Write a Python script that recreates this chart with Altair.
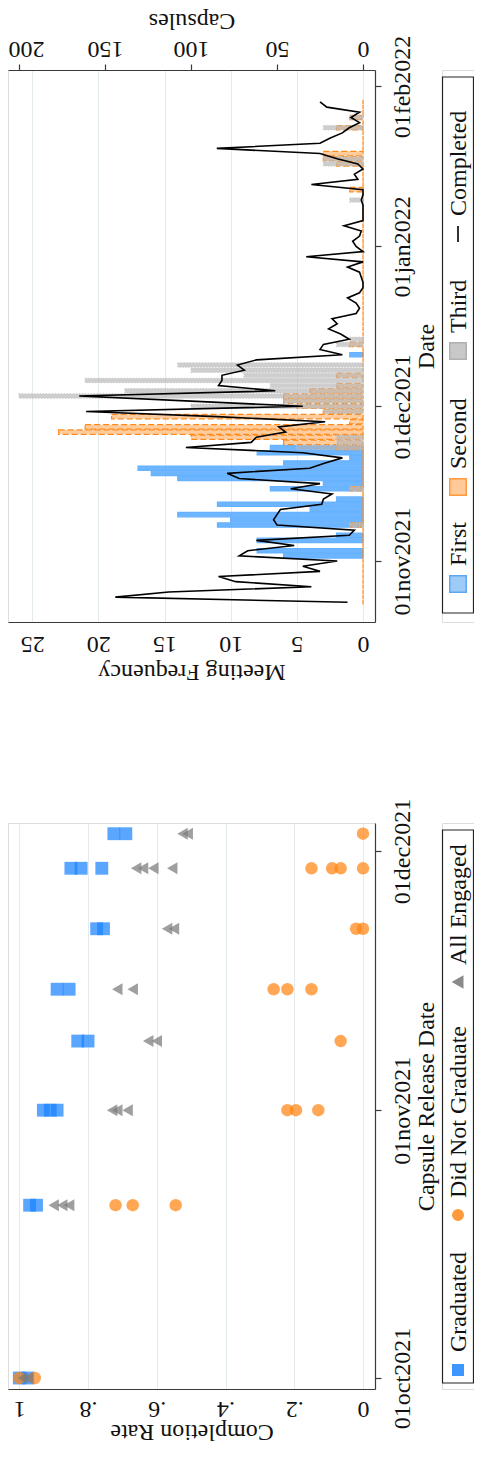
import altair as alt
import pandas as pd

FONT = "Liberation Serif"
FS = 24
INK = "#111111"
GRID = "#e3ebee"
AXC = "#3a3a3a"

# ---------------- top panel: daily meetings (24 Oct 2021 - 29 Jan 2022) ----------------
first_day = "2021-10-24"
first = [0, 0, 0, 0, 0, 0, 0, 0, 0,
         6, 8, 0, 8, 2, 0, 11, 10, 14, 4,
         11, 2, 0, 7, 3, 14, 16, 17, 6, 1,
         8, 7, 0, 0, 0, 0, 0, 0, 0, 0,
         0, 0, 0, 0, 0, 0, 0, 0, 0, 1,
         0, 0, 0, 0, 0, 0, 0, 0, 0, 0,
         0, 0, 0, 0, 0, 0, 0, 0, 0, 0,
         0, 0, 0, 0, 0, 0, 0, 0, 0, 0,
         0, 0, 0, 0, 0, 0, 0, 0, 0, 0,
         0, 0, 0, 0, 0, 0, 0, 0, 0]
second = [0, 0, 0, 0, 0, 0, 0, 0, 0,
          0, 0, 0, 0, 0, 0, 1, 0, 0, 0,
          0, 0, 0, 1, 0, 0, 0, 0, 0, 0,
          0, 2, 6, 13, 23, 21, 1, 19, 3, 5,
          6, 6, 4, 2, 0, 2, 0, 0, 0, 0,
          0, 1, 0, 0, 0, 0, 0, 0, 0, 0,
          0, 0, 0, 0, 0, 0, 0, 0, 0, 0,
          0, 0, 0, 0, 0, 0, 0, 0, 0, 0,
          0, 1, 0, 0, 0, 0, 2, 3, 3, 0,
          0, 0, 0, 2, 0, 1, 0, 0, 0]
third = [0, 0, 0, 0, 0, 0, 0, 0, 0,
         0, 0, 0, 0, 0, 0, 1, 0, 0, 0,
         0, 0, 0, 1, 0, 0, 0, 0, 0, 0,
         0, 5, 2, 2, 0, 0, 0, 0, 3, 13,
         6, 26, 18, 7, 21, 9, 13, 14, 0, 0,
         0, 2, 1, 0, 0, 0, 0, 0, 0, 0,
         0, 0, 0, 0, 0, 0, 0, 0, 0, 0,
         0, 0, 0, 0, 0, 0, 0, 0, 0, 1,
         0, 0, 0, 0, 0, 0, 3, 3, 0, 0,
         0, 0, 0, 3, 0, 1, 0, 0, 0]
completed = [9, 144, 113, 30, 74, 84, 25, 35, 15,
             72, 67, 40, 62, 8, 5, 50, 52, 50, 48,
             24, 23, 18, 42, 25, 72, 79, 31, 22, 12,
             35, 103, 65, 62, 45, 49, 22, 85, 161, 35,
             100, 165, 51, 84, 82, 82, 69, 73, 62, 12,
             25, 23, 8, 13, 20, 15, 18, 4, 2, 4,
             9, 2, 0, 0, 1, 2, 9, 0, 33, 0,
             4, 6, 2, 1, 11, 0, 0, 0, 0, 1,
             0, 0, 30, 3, 5, 0, 3, 15, 25, 85,
             25, 19, 12, 8, 2, 7, 2, 21, 25]
meeting_series = ["First", "Second", "Third"]

# ---------------- bottom panel: completion rate by capsule release ----------------
grad_dates = ["2021-10-01", "2021-10-01", "2021-10-21", "2021-10-21", "2021-11-01", "2021-11-01",
              "2021-11-01", "2021-11-09", "2021-11-09", "2021-11-15", "2021-11-15", "2021-11-22",
              "2021-11-22", "2021-11-29", "2021-11-29", "2021-11-29", "2021-12-03", "2021-12-03"]
grad_rates = [1.0, 0.975, 0.97, 0.95, 0.93, 0.91, 0.89, 0.83, 0.80, 0.89, 0.855, 0.775,
              0.755, 0.85, 0.82, 0.76, 0.725, 0.69]
notgrad_dates = ["2021-10-01", "2021-10-01", "2021-10-21", "2021-10-21", "2021-10-21", "2021-11-01",
                 "2021-11-01", "2021-11-01", "2021-11-09", "2021-11-15", "2021-11-15", "2021-11-15",
                 "2021-11-22", "2021-11-22", "2021-11-29", "2021-11-29", "2021-11-29", "2021-11-29",
                 "2021-12-03"]
notgrad_rates = [1.0, 0.955, 0.72, 0.67, 0.545, 0.22, 0.195, 0.13, 0.065, 0.26, 0.22, 0.15,
                 0.02, 0.0, 0.15, 0.09, 0.065, 0.0, 0.0]
engaged_dates = ["2021-10-01", "2021-10-01", "2021-10-21", "2021-10-21", "2021-10-21", "2021-11-01",
                 "2021-11-01", "2021-11-01", "2021-11-09", "2021-11-09", "2021-11-15", "2021-11-15",
                 "2021-11-22", "2021-11-22", "2021-11-29", "2021-11-29", "2021-11-29", "2021-11-29",
                 "2021-12-03", "2021-12-03"]
engaged_rates = [0.99, 0.975, 0.90, 0.875, 0.855, 0.73, 0.715, 0.685, 0.625, 0.60, 0.715, 0.67,
                 0.57, 0.55, 0.66, 0.64, 0.61, 0.555, 0.525, 0.51]
rate_groups = ["Graduated", "Did Not Graduate", "All Engaged"]

# ---------------- build tables ----------------
dates = pd.date_range(first_day, periods=len(first), freq="D")
top_wide = pd.DataFrame({"date": dates, "First": first, "Second": second,
                         "Third": third, "Completed": completed})
top_long = top_wide.melt(id_vars=["date"], value_vars=meeting_series,
                         var_name="series", value_name="freq")

rows = []
for grp, ds, vs in zip(rate_groups, [grad_dates, notgrad_dates, engaged_dates],
                       [grad_rates, notgrad_rates, engaged_rates]):
    for d, v in zip(ds, vs):
        rows.append({"date": d + "T00:00:00", "rate": v, "group": grp})
scatter_df = pd.DataFrame(rows)

# ---------------- shared styling ----------------
DATE_EXPR = "lower(timeFormat(datum.value, '%d%b%Y'))"


def ax(**kw):
    base = dict(labelFont=FONT, labelFontSize=FS, labelColor=INK, titleFont=FONT,
                titleFontSize=FS, titleFontWeight="normal", titleColor=INK,
                domainColor=AXC, domainWidth=1.2, tickColor=AXC, tickWidth=1.2,
                labelOverlap=False)
    base.update(kw)
    return alt.Axis(**base)


def dt(y, m, d, h=0, mi=0):
    return alt.DateTime(year=y, month=m, date=d, hours=h, minutes=mi)


W = 367
H_TOP = 552
H_BOT = 566

# ---------------- top main chart ----------------
y_top = alt.Y("date:T",
              scale=alt.Scale(domain=[dt(2021, 10, 21, 3, 35), dt(2022, 2, 3, 5, 30)], nice=False),
              axis=ax(orient="right", values=[dt(2021, 11, 1), dt(2021, 12, 1), dt(2022, 1, 1), dt(2022, 2, 1)],
                      labelExpr=DATE_EXPR, labelAngle=270, labelAlign="center", labelBaseline="top",
                      tickSize=6, labelPadding=9, grid=False, title="Date", titleAngle=270,
                      titleBaseline="top", titleAlign="center", titlePadding=0))

x_freq = alt.X("freq:Q",
               scale=alt.Scale(domain=[-0.907, 26.83], reverse=True, nice=False, zero=False),
               axis=ax(orient="bottom", values=[0, 5, 10, 15, 20, 25], format="d", labelAngle=180,
                       labelAlign="center", labelBaseline="bottom", ticks=False, tickSize=0,
                       labelPadding=9, grid=True, gridColor=GRID, gridWidth=1,
                       title="Meeting Frequency", titleAngle=180, titleBaseline="bottom",
                       titlePadding=4))

bar_styles = {
    "First": dict(fill="#3d9cff", fillOpacity=0.75, stroke="#66b2ff", strokeWidth=1.2),
    "Second": dict(fill="#ffab5c", fillOpacity=0.6, stroke="#ff8a1c", strokeWidth=1.2,
                   strokeDash=[6, 3]),
    "Third": dict(fill="#b4b4b4", fillOpacity=0.65, stroke="#c8c8c8", strokeWidth=1.2,
                  strokeDash=[1, 2]),
}

bar_layers = []
for s in meeting_series:
    src = alt.Chart(top_long).transform_filter(alt.datum.series == s)
    if s != "Second":
        src = src.transform_filter(alt.datum.freq > 0)
    bar_layers.append(src.mark_bar(orient="horizontal", size=4.4, **bar_styles[s])
                      .encode(x=x_freq, y=y_top))
bars = alt.layer(*bar_layers)

line = alt.Chart(top_wide).mark_line(color="#000000", strokeWidth=1.6).encode(
    x=alt.X("Completed:Q",
            scale=alt.Scale(domain=[-6.98, 206.4], reverse=True, nice=False, zero=False),
            axis=ax(orient="top", values=[0, 50, 100, 150, 200], format="d", labelAngle=180,
                    labelAlign="center", labelBaseline="top", ticks=True, tickSize=6,
                    labelPadding=4, grid=False, title="Capsules", titleAngle=180,
                    titleBaseline="top", titlePadding=4,
                    labelOffset={"condition": {"test": "datum.value == 200", "value": 7},
                                 "value": 0})),
    y=y_top,
    order=alt.Order("date:T"),
)

top_main = alt.layer(bars, line).resolve_scale(x="independent").properties(width=W, height=H_TOP)

# ---------------- bottom main chart ----------------
scatter = alt.Chart(scatter_df).mark_point(filled=True, opacity=0.72).encode(
    x=alt.X("rate:Q",
            scale=alt.Scale(domain=[-0.0349, 1.0329], reverse=True, nice=False, zero=False),
            axis=ax(orient="bottom", values=[0, 0.2, 0.4, 0.6, 0.8, 1],
                    labelExpr="datum.value == 0 ? '0' : datum.value == 1 ? '1' : replace(format(datum.value, '.1f'), '0.', '.')",
                    labelAngle=180, labelAlign="center", labelBaseline="bottom", ticks=False,
                    tickSize=0, labelPadding=7, grid=True, gridColor=GRID, gridWidth=1,
                    title="Completion Rate", titleAngle=180, titleBaseline="bottom",
                    titlePadding=-1)),
    y=alt.Y("date:T",
            scale=alt.Scale(domain=[dt(2021, 9, 29, 17, 27), dt(2021, 12, 4, 5, 47)], nice=False),
            axis=ax(orient="right", values=[dt(2021, 10, 1), dt(2021, 11, 1), dt(2021, 12, 1)],
                    labelExpr=DATE_EXPR, labelAngle=270, labelAlign="center", labelBaseline="top",
                    tickSize=6, labelPadding=9, grid=False, title="Capsule Release Date",
                    titleAngle=270, titleBaseline="top", titleAlign="center", titlePadding=0)),
    color=alt.Color("group:N", legend=None,
                    scale=alt.Scale(domain=rate_groups, range=["#1a84ff", "#ff8514", "#7a7a7a"])),
    shape=alt.Shape("group:N", legend=None,
                    scale=alt.Scale(domain=rate_groups, range=["square", "circle", "triangle-left"])),
    size=alt.Size("group:N", legend=None,
                  scale=alt.Scale(domain=rate_groups, range=[165, 145, 175])),
)
bot_main = scatter.properties(width=W, height=H_BOT)

# ---------------- manual legends (rotated like the rest of the figure) ----------------
LW = 32
LX = 16  # centre line of the legend entries inside the box


def legend_chart(labels, sym_y, text_y, symbols, box, height, line_item=None):
    sym_df = pd.DataFrame({"label": labels, "sy": sym_y, "ty": text_y,
                           "shape": [s[0] for s in symbols], "fill": [s[1] for s in symbols],
                           "stroke": [s[2] for s in symbols], "size": [s[3] for s in symbols]})
    sym_df = sym_df[sym_df["shape"] != "none"]
    txt_df = pd.DataFrame({"label": labels, "ty": text_y})
    box_df = pd.DataFrame({"x": [box[0]], "x2": [box[1]], "y": [box[2]], "y2": [box[3]]})
    layers = [
        alt.Chart(box_df).mark_rect(fill="white", stroke="#222222", strokeWidth=1.2).encode(
            x=alt.X("x:Q", scale=None, axis=None), x2="x2:Q",
            y=alt.Y("y:Q", scale=None, axis=None), y2="y2:Q"),
        alt.Chart(sym_df).mark_point(filled=True, strokeWidth=1.5, opacity=1).encode(
            x=alt.value(LX), y=alt.Y("sy:Q", scale=None, axis=None),
            shape=alt.Shape("shape:N", scale=None, legend=None),
            fill=alt.Fill("fill:N", scale=None, legend=None),
            stroke=alt.Stroke("stroke:N", scale=None, legend=None),
            size=alt.Size("size:Q", scale=None, legend=None)),
        alt.Chart(txt_df).mark_text(angle=270, align="left", baseline="middle", font=FONT,
                                    fontSize=FS, color=INK).encode(
            x=alt.value(LX + 1), y=alt.Y("ty:Q", scale=None, axis=None), text="label:N"),
    ]
    if line_item is not None:
        ln_df = pd.DataFrame({"a": [line_item[0]], "b": [line_item[1]]})
        layers.append(alt.Chart(ln_df).mark_rule(color="#000000", strokeWidth=1.6).encode(
            x=alt.value(LX), y=alt.Y("a:Q", scale=None, axis=None), y2="b:Q"))
    return alt.layer(*layers).properties(width=LW, height=height)


top_leg = legend_chart(
    labels=["First", "Second", "Third", "Completed"],
    sym_y=[514, 417, 281, 0], text_y=[496, 399, 263, 146],
    symbols=[("square", "#9fccf7", "#5aa8f5", 270), ("square", "#ffc999", "#ff9a3c", 270),
             ("square", "#c8c8c8", "#b0b0b0", 270), ("none", "#000", "#000", 0)],
    box=[0.5, LW - 0.5, 7, 543], height=H_TOP, line_item=(156, 172))

bot_leg = legend_chart(
    labels=["Graduated", "Did Not Graduate", "All Engaged"],
    sym_y=[547, 392, 159], text_y=[529, 375, 142],
    symbols=[("square", "#3d97ff", "#3d97ff", 110), ("circle", "#ff9a3c", "#ff9a3c", 110),
             ("triangle-left", "#8a8a8a", "#8a8a8a", 120)],
    box=[0.5, LW - 0.5, 7, 560], height=H_BOT)

# page layout: plot areas placed flush; padding puts the first plot at (8, 70) on the page
# and keeps the whole drawing inside the 489 x 1461 window.
SVG_W, SVG_H, TOP_PAD = 466, 1438, 62
chart = alt.concat(
    top_main, top_leg, bot_main, bot_leg,
    columns=2, spacing={"row": 201, "column": 67}, bounds="flush", align="each",
).properties(
    autosize=alt.AutoSizeParams(type="none"),
    padding={"left": 0, "top": TOP_PAD, "right": SVG_W, "bottom": SVG_H - TOP_PAD},
    background="white",
).configure_view(stroke=None).configure(font=FONT)

chart.save("out.html", embed_options={"renderer": "svg", "actions": False})
